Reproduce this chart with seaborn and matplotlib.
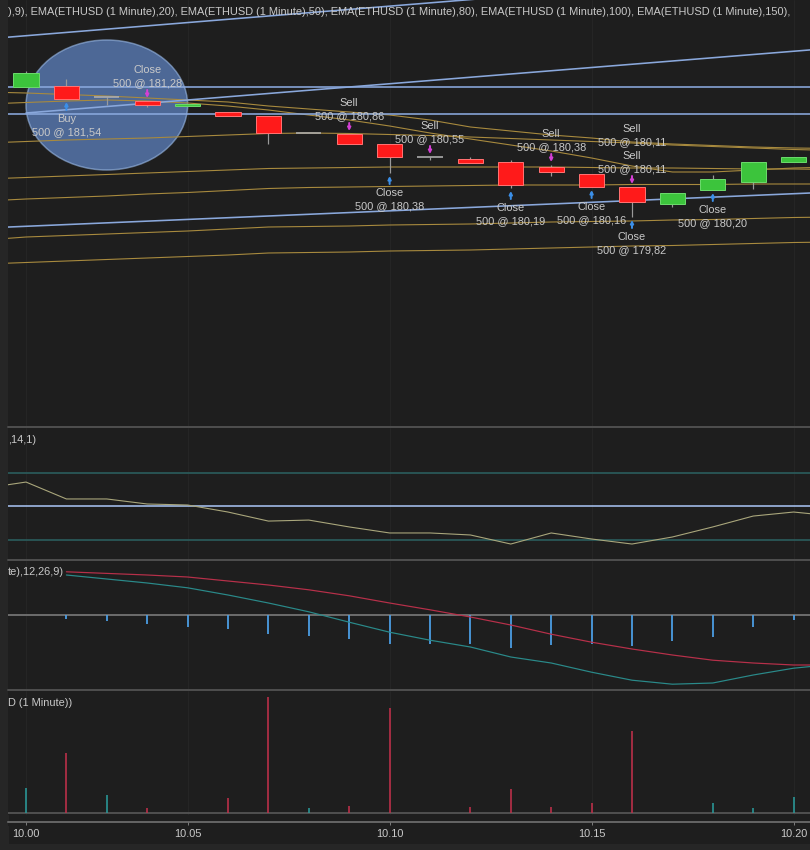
import numpy as np
import pandas as pd
import matplotlib
matplotlib.use('Agg')
import matplotlib.pyplot as plt
from matplotlib.patches import Ellipse, Rectangle
from matplotlib.lines import Line2D
import seaborn as sns

# one candle per minute, bar index 0..19
bar_idx = list(range(20))
opens  = [181.13, 181.14, 181.03, 180.99, 180.94, 180.88, 180.84, 180.67, 180.66, 180.56,
          180.43, 180.41, 180.38, 180.33, 180.26, 180.13, 179.96, 180.10, 180.18, 180.38]
closes = [181.27, 181.01, 181.03, 180.95, 180.96, 180.84, 180.67, 180.67, 180.56, 180.43,
          180.43, 180.37, 180.15, 180.28, 180.13, 179.98, 180.07, 180.21, 180.38, 180.43]
highs  = [181.29, 181.21, 181.03, 180.99, 180.96, 180.88, 180.84, 180.67, 180.66, 180.56,
          180.43, 180.43, 180.40, 180.35, 180.26, 180.13, 180.07, 180.25, 180.38, 180.43]
lows   = [181.13, 181.01, 180.95, 180.93, 180.94, 180.84, 180.56, 180.67, 180.56, 180.27,
          180.40, 180.37, 180.12, 180.24, 180.13, 179.83, 179.93, 180.10, 180.11, 180.38]
volume = [75, 180, 54, 15, 0, 45, 348, 15, 21, 315, 0, 18, 72, 18, 30, 246, 0, 30, 15, 48]

# indicator lines run one bar past each edge
ind_idx = list(range(-1, 21))
ema_names = ['EMA 9', 'EMA 20', 'EMA 50', 'EMA 80', 'EMA 100', 'EMA 150', 'EMA 200']
ema9   = [180.96, 180.975, 180.99, 181.00, 180.99, 180.97, 180.94, 180.90, 180.85, 180.80, 180.74,
          180.67, 180.61, 180.55, 180.49, 180.42, 180.34, 180.28, 180.28, 180.30, 180.32, 180.33]
ema20  = [181.08, 181.07, 181.055, 181.04, 181.02, 181.00, 180.98, 180.94, 180.91, 180.88, 180.85,
          180.80, 180.73, 180.69, 180.65, 180.62, 180.58, 180.56, 180.545, 180.53, 180.52, 180.515]
ema50  = [180.57, 180.585, 180.60, 180.61, 180.62, 180.635, 180.65, 180.665, 180.67, 180.665, 180.655,
          180.645, 180.63, 180.615, 180.60, 180.585, 180.57, 180.55, 180.535, 180.52, 180.505, 180.495]
ema80  = [180.21, 180.225, 180.24, 180.255, 180.27, 180.285, 180.30, 180.315, 180.32, 180.325, 180.33,
          180.33, 180.33, 180.33, 180.33, 180.325, 180.32, 180.32, 180.315, 180.31, 180.31, 180.305]
ema100 = [179.99, 180.01, 180.025, 180.04, 180.06, 180.075, 180.095, 180.115, 180.125, 180.13, 180.135,
          180.14, 180.145, 180.15, 180.15, 180.15, 180.155, 180.155, 180.155, 180.16, 180.16, 180.16]
ema150 = [179.60, 179.63, 179.645, 179.66, 179.675, 179.69, 179.71, 179.73, 179.735, 179.74, 179.75,
          179.755, 179.76, 179.77, 179.78, 179.785, 179.79, 179.80, 179.805, 179.815, 179.825, 179.83]
ema200 = [179.36, 179.375, 179.39, 179.405, 179.42, 179.435, 179.45, 179.47, 179.475, 179.48, 179.49,
          179.495, 179.50, 179.51, 179.52, 179.53, 179.54, 179.545, 179.555, 179.565, 179.575, 179.58]
rsi = [60.7, 64.3, 54.2, 54.2, 51.2, 50.6, 46.4, 41.0, 41.6, 37.5, 33.9,
       33.9, 32.7, 27.3, 33.9, 30.3, 27.3, 31.5, 37.5, 44.0, 46.4, 44.0]
rsi_levels = [70, 50, 30]

macd_idx = list(range(1, 21))
macd_line = [0.100, 0.090, 0.080, 0.068, 0.050, 0.030, 0.008, -0.018, -0.043, -0.063,
             -0.080, -0.105, -0.120, -0.143, -0.163, -0.173, -0.170, -0.150, -0.133, -0.123]
macd_signal = [0.108, 0.104, 0.100, 0.095, 0.085, 0.075, 0.063, 0.048, 0.030, 0.013,
               -0.005, -0.025, -0.048, -0.068, -0.085, -0.100, -0.113, -0.120, -0.125, -0.125]
hist_idx = list(range(1, 20))
macd_hist = [-0.010, -0.015, -0.023, -0.030, -0.035, -0.048, -0.053, -0.060, -0.073, -0.073,
             -0.073, -0.083, -0.075, -0.073, -0.078, -0.065, -0.055, -0.030, -0.013]

# drawn trend lines: (start bar, start price, end bar, end price)
trend_x0 = [-1, -1, -1, 0, -1]
trend_p0 = [181.61, 181.13, 180.86, 180.87, 179.72]
trend_x1 = [20, 20, 20, 20, 20]
trend_p1 = [182.30, 181.13, 180.86, 181.52, 180.08]

# executions
trade_idx = [1, 3, 8, 9, 10, 12, 13, 14, 15, 15, 15, 17]
trade_kind = ['Buy', 'Close', 'Sell', 'Close', 'Sell', 'Close', 'Sell', 'Close', 'Sell', 'Sell', 'Close', 'Close']
trade_dir = ['buy', 'sell', 'sell', 'buy', 'sell', 'buy', 'sell', 'buy', 'sell', 'sell', 'buy', 'buy']
trade_qty = [500] * 12
trade_price = ['181,54', '181,28', '180,86', '180,38', '180,55', '180,19',
               '180,38', '180,16', '180,11', '180,11', '179,82', '180,20']

tick_idx = [0, 4, 9, 14, 19]
tick_labels = ['10.00', '10.05', '10.10', '10.15', '10.20']

header = ('),9), EMA(ETHUSD (1 Minute),20), EMA(ETHUSD (1 Minute),50), EMA(ETHUSD (1 Minute),80), '
          'EMA(ETHUSD (1 Minute),100), EMA(ETHUSD (1 Minute),150),')

BG = '#1e1e1e'
SIDE = '#262626'
TXT = '#c9c9c9'
GOLD = '#a88a3e'
BLUE_LN = '#8aa8dc'
UP = '#3cc43c'
DOWN = '#ff1a1a'
WICK = '#9a9a9a'

sns.set_theme(style='dark', rc={'axes.facecolor': BG, 'figure.facecolor': BG})
plt.rcParams['font.family'] = ['Liberation Sans', 'DejaVu Sans']

W, H = 810, 850
fig = plt.figure(figsize=(W / 72, H / 72), dpi=72)


def rect(top, bottom, left=8, right=810):
    return [left / W, 1 - bottom / H, (right - left) / W, (bottom - top) / H]


ax = fig.add_axes(rect(0, 426))
ax_rsi = fig.add_axes(rect(428, 559))
ax_macd = fig.add_axes(rect(561, 689))
ax_vol = fig.add_axes(rect(691, 815))
ax_t = fig.add_axes(rect(822, 826))

xlim = (-18 / 40.4, 784 / 40.4)
for a in [ax, ax_rsi, ax_macd, ax_vol, ax_t]:
    a.set_facecolor(BG)
    a.set_xlim(xlim)
    a.set_xticks([])
    a.set_yticks([])
    for s in a.spines.values():
        s.set_visible(False)
    if a is not ax_t:
        for t in tick_idx:
            a.axvline(t, color='#252525', lw=1, zorder=0)

# side strips and panel separators
fig.add_artist(Rectangle((0, 0), 8 / W, 1, transform=fig.transFigure, color=SIDE, zorder=-1))
fig.add_artist(Rectangle((0, 0), 1, 6 / H, transform=fig.transFigure, color=SIDE, zorder=-1))
for y in [427, 560, 690]:
    fig.add_artist(Line2D([8 / W, 1], [1 - y / H, 1 - y / H], transform=fig.transFigure,
                          color='#4d4d4d', lw=2))

# ---- price panel
ax.set_ylim(182.0 - 4.26, 182.0)

# highlight ellipse sits behind lines and candles
ax.add_patch(Ellipse((2.0, 180.95), 4.0, 1.30, facecolor='#6e9be8', alpha=0.6,
                     edgecolor='#9bbbe8', lw=1.5, zorder=1.5))

ema_df = pd.DataFrame({
    'idx': ind_idx * 7,
    'price': ema9 + ema20 + ema50 + ema80 + ema100 + ema150 + ema200,
    'ema': [n for n in ema_names for _ in ind_idx],
})
sns.lineplot(data=ema_df, x='idx', y='price', units='ema', estimator=None,
             color=GOLD, lw=1.1, ax=ax, legend=False, zorder=2)

for x0, p0, x1, p1 in zip(trend_x0, trend_p0, trend_x1, trend_p1):
    ax.plot([x0, x1], [p0, p1], color=BLUE_LN, lw=1.6, zorder=2)

body_w = 0.62
for i, o, c, hi, lo in zip(bar_idx, opens, closes, highs, lows):
    ax.vlines(i, lo, hi, color=WICK, lw=1.2, zorder=3)
    if o == c:
        ax.hlines(o, i - body_w / 2, i + body_w / 2, color='#b0b0b0', lw=1.6, zorder=4)
        continue
    face, edge = (UP, '#6ad86a') if c > o else (DOWN, '#ff7070')
    ax.add_patch(Rectangle((i - body_w / 2, min(o, c)), body_w, abs(c - o),
                           facecolor=face, edgecolor=edge, lw=1, zorder=4))

# trade markers and labels
stack = {}
for i, kind, d, q, p in zip(trade_idx, trade_kind, trade_dir, trade_qty, trade_price):
    key = (i, d)
    level = stack.get(key, 0)
    stack[key] = level + 1
    if d == 'buy':
        base = lows[i]
        sgn = -1
        col = '#3b8fe8'
    else:
        base = highs[i]
        sgn = 1
        col = '#d43fd4'
    if level == 0:
        ax.annotate('', xy=(i, base), xytext=(0, sgn * 11), textcoords='offset points',
                    arrowprops=dict(arrowstyle='-|>', color=col, lw=2, mutation_scale=6,
                                    shrinkA=0, shrinkB=3), zorder=6)
    shift = level * 27
    if d == 'buy':
        pos = [(-20 - shift, kind), (-33 - shift, f'{q} @ {p}')]
    else:
        pos = [(18 + shift, f'{q} @ {p}'), (31 + shift, kind)]
    for dy, s in pos:
        ax.annotate(s, xy=(i, base), xytext=(0, dy), textcoords='offset points',
                    ha='center', va='center', color=TXT, fontsize=11, zorder=7)

ax.text(0.0, 1 - 12 / 426, header, transform=ax.transAxes, ha='left', va='center',
        color=TXT, fontsize=11, clip_on=True, zorder=8)

# ---- RSI panel
ax_rsi.set_ylim(50 - 53 * 20 / 33.5, 50 + 78 * 20 / 33.5)
for lvl, col in zip(rsi_levels, ['#2b5f5f', '#a6c0ee', '#2b5f5f']):
    ax_rsi.axhline(lvl, color=col, lw=1.6)
sns.lineplot(x=ind_idx, y=rsi, color='#aaa77c', lw=1.1, ax=ax_rsi)
ax_rsi.text(0.0, 1 - 12 / 131, ',14,1)', transform=ax_rsi.transAxes, ha='left', va='center',
            color=TXT, fontsize=11)

# ---- MACD panel
ax_macd.set_ylim((615 - 689) / 400, (615 - 561) / 400)
ax_macd.axhline(0, color='#6a6a6a', lw=2, zorder=1)
ax_macd.vlines(hist_idx, 0, macd_hist, color='#4b9de3', lw=1.8, zorder=2)
sns.lineplot(x=macd_idx, y=macd_signal, color='#b8304a', lw=1.2, ax=ax_macd, zorder=3)
sns.lineplot(x=macd_idx, y=macd_line, color='#2a8a8a', lw=1.2, ax=ax_macd, zorder=3)
ax_macd.text(0.0, 1 - 11 / 128, 'te),12,26,9)', transform=ax_macd.transAxes, ha='left', va='center',
             color=TXT, fontsize=11)

# ---- volume panel
ax_vol.set_ylim(-6, 366)
vol_cols = ['#2a9a9a' if c >= o else '#c0304a' for o, c in zip(opens, closes)]
ax_vol.vlines(bar_idx, 0, volume, colors=vol_cols, lw=1.6, zorder=2)
ax_vol.axhline(0, color='#5a5a5a', lw=1.6, zorder=1)
ax_vol.text(0.0, 1 - 12 / 124, 'D (1 Minute))', transform=ax_vol.transAxes, ha='left', va='center',
            color=TXT, fontsize=11)

# ---- time axis
ax_t.spines['top'].set_visible(True)
ax_t.spines['top'].set_color('#7a7a7a')
ax_t.spines['top'].set_linewidth(1.5)
ax_t.set_xticks(tick_idx)
ax_t.set_xticklabels(tick_labels)
ax_t.tick_params(axis='x', top=True, bottom=False, labelbottom=True, labeltop=False,
                 direction='in', length=3, width=1, color='#7a7a7a', pad=3,
                 labelcolor=TXT, labelsize=11)

fig.savefig('out.png', dpi=72, facecolor=BG)
